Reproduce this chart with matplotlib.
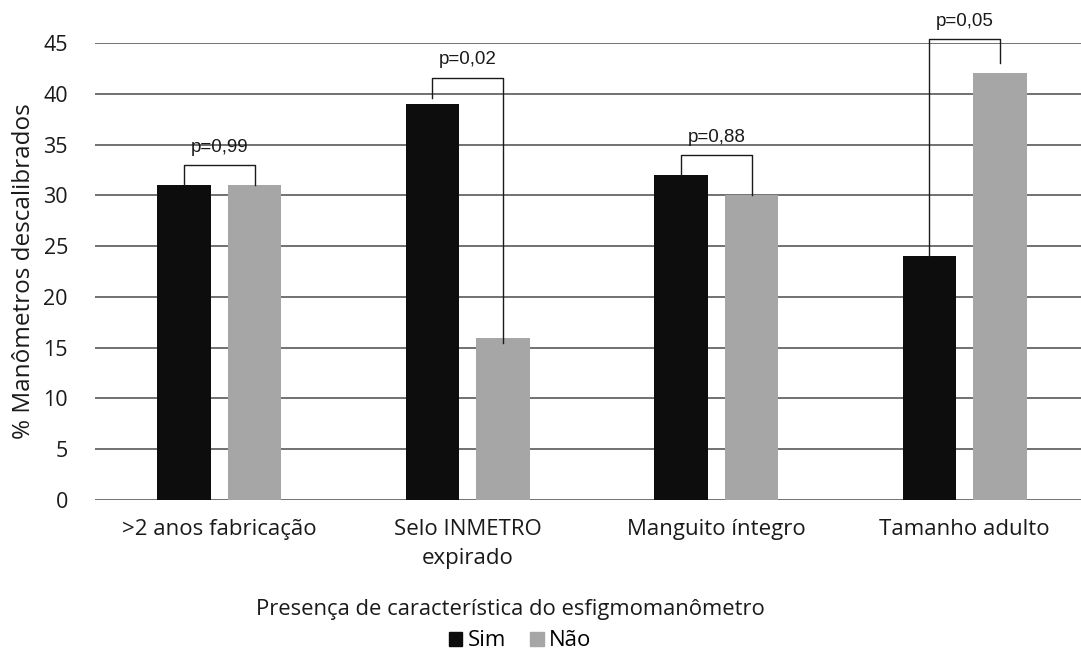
import numpy as np
import matplotlib.pyplot as plt
from matplotlib.patches import Patch

## Data
categories = ['>2 anos fabricação', 'Selo INMETRO\nexpirado', 'Manguito íntegro', 'Tamanho adulto']
sim = [31, 39, 32, 24]
nao = [31, 16, 30, 42]
p_labels = ['p=0,99', 'p=0,02', 'p=0,88', 'p=0,05']

# bracket layout (top height, left end, right end)
bracket_top = [33.0, 41.6, 34.0, 45.4]
bracket_left_end = [31.0, 39.6, 32.0, 24.0]
bracket_right_end = [31.0, 15.5, 30.0, 43.0]

black = '#0d0d0d'
gray = '#a6a6a6'
txt = '#1a1a1a'
label_font = 'Open Sans'

fig = plt.figure(figsize=(10.81, 6.56), dpi=100)
ax = fig.add_axes([95/1081, 156/656, 994/1081, 457/656])

x = np.arange(len(categories))
w = 0.217
off = 0.142
ax.bar(x - off, sim, w, color=black, zorder=3, label='Sim')
ax.bar(x + off, nao, w, color=gray, zorder=3, label='Não')

ax.set_xlim(-0.5, 3.5)
ax.set_ylim(0, 45)
ax.set_yticks(np.arange(0, 46, 5))
ax.grid(axis='y', color='#4a4a4a', linewidth=1.1, zorder=0)
ax.set_axisbelow(True)
for s in ax.spines.values():
    s.set_visible(False)
ax.tick_params(axis='both', length=0)
ax.tick_params(axis='y', pad=19.5)
ax.tick_params(axis='x', pad=14)
ax.set_xticks(x)
ax.set_xticklabels(categories, fontsize=16, family=label_font, color=txt, linespacing=1.45)
for t in ax.get_yticklabels():
    t.set_fontsize(15.5)
    t.set_family(label_font)
    t.set_color(txt)

fig.text(24/1081, 1 - 271/656, '% Manômetros descalibrados', rotation=90,
         ha='center', va='center', fontsize=17.5, family=label_font, color=txt)

# p-value brackets
for i in range(len(categories)):
    xl = x[i] - off
    xr = x[i] + off
    ax.plot([xl, xl, xr, xr],
            [bracket_left_end[i], bracket_top[i], bracket_top[i], bracket_right_end[i]],
            color=txt, linewidth=1.0, zorder=4, clip_on=False)
    ax.text(x[i], bracket_top[i] + 0.9, p_labels[i], ha='center', va='bottom',
            fontsize=13.5, family='Liberation Sans', color=txt)

fig.text(510/1081, 1 - 610/656, 'Presença de característica do esfigmomanômetro',
         ha='center', va='center', fontsize=15.8, family=label_font, color=txt)

handles = [Patch(color=black), Patch(color=gray)]
fig.legend(handles, ['Sim', 'Não'], loc='center', bbox_to_anchor=(520/1081, 1 - 641/656),
           ncol=2, frameon=False, handlelength=0.6, handleheight=0.6, handletextpad=0.25,
           columnspacing=1.1, prop={'family': label_font, 'size': 16})

fig.savefig('out.png', dpi=100)
